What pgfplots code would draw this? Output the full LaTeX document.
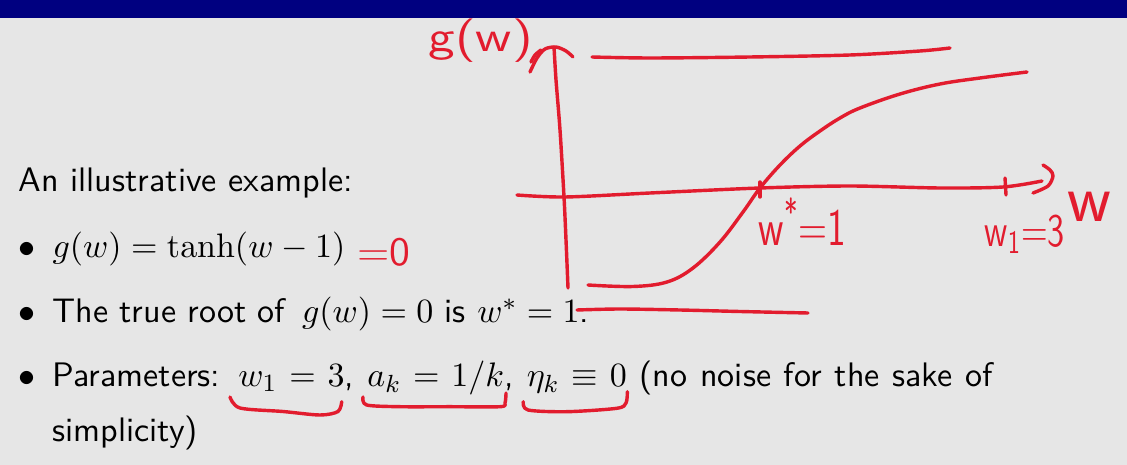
\documentclass[border=0pt]{standalone}
\usepackage{pgfplots}
\pgfplotsset{compat=1.18}
\usepackage{amsmath}
\usepackage{graphicx}
\definecolor{slidebg}{RGB}{230,230,230}
\definecolor{barnavy}{RGB}{0,0,128}
\definecolor{ink}{RGB}{226,28,46}
\newcommand{\hand}[3]{\scalebox{#1}[1]{\fontsize{#2}{#2}\selectfont\sffamily #3}}
\tikzset{txt/.style={anchor=base west, inner sep=0pt, outer sep=0pt, font=\fontsize{10.95}{13.6}\selectfont\sffamily}}
\begin{document}
\begin{tikzpicture}
\begin{axis}[
  scale only axis, width=362.85pt, height=149.71pt,
  xmin=0, xmax=1127, ymin=0, ymax=465, y dir=reverse,
  hide axis, clip=false,
]
% slide background and title bar
\addplot[fill=slidebg, draw=none] coordinates {(0,0) (1127,0) (1127,465) (0,465)} -- cycle;
\addplot[fill=barnavy, draw=none] coordinates {(0,0) (1127,0) (1127,18) (0,18)} -- cycle;

% slide text
\node[txt] at (19,191.7) {An illustrative example:};
\node[txt] at (18,257.3) {$\bullet$};
\node[txt] at (18,322.7) {$\bullet$};
\node[txt] at (18,386.7) {$\bullet$};
\node[txt] at (52.5,257.3) {\fontsize{11.2}{13.6}\selectfont$g(w) = \tanh(w-1)$};
\node[txt] at (52.5,322.7) {The true root of};
\node[txt] at (302,322.7) {$g(w) = 0$ is $w^* = 1$.};
\node[txt] at (52.5,386.7) {\hbox to 302.8pt{Parameters: $w_1 = 3$, $a_k = 1/k$, $\eta_k \equiv 0$ (no noise for the sake of}};
\node[txt] at (52.5,441.7) {simplicity)};

% handwritten strokes
\pgfplotsset{every axis plot/.append style={line width=1.1pt, line cap=round, line join=round, no marks}}
% vertical axis and arrow head
\addplot[ink, smooth] coordinates {(568,288) (566,240) (564,197) (560,130) (556,80) (554,47)};
\addplot[ink, smooth] coordinates {(530,72) (537,58) (545,49) (556,47) (566,51) (573,57)};
\addplot[ink, smooth] coordinates {(531,62) (535,55) (541,50)};
% horizontal axis, ticks and arrow head
\addplot[ink, smooth] coordinates {(517,195) (565,197) (650,193) (760,188) (850,186) (940,188) (1003,187) (1042,181)};
\addplot[ink] coordinates {(760,182) (760,197)};
\addplot[ink] coordinates {(1005,178) (1006,195)};
\addplot[ink, smooth] coordinates {(1043,165) (1050,170) (1053,176) (1048,186) (1033,193)};
% asymptotes
\addplot[ink, smooth] coordinates {(592,57) (650,58) (750,57) (850,55) (920,51) (950,48)};
\addplot[ink, smooth] coordinates {(577,310) (620,309) (680,310) (740,311.5) (808,313)};
% g(w) = tanh(w-1)
\addplot[ink, smooth, tension=0.6] coordinates {(588,285) (633,286.5) (667,282) (693,268) (720,242) (743,212) (760,188) (780,165) (800,146) (820,131) (840,118) (860,108) (900,94) (940,84) (980,78) (1027,72)};
% underbraces
\addplot[ink, smooth] coordinates {(230,397) (240,408) (283,411.5) (320,415) (338,411.5) (341.7,401.7)};
\addplot[ink, smooth] coordinates {(363,397) (366.7,405) (400,406.7) (450,406.7) (500,406.7) (505,403) (506,393)};
\addplot[ink, smooth] coordinates {(523.3,401.7) (528,410) (566.7,411.7) (616.7,408.3) (626,403) (627.3,391.7)};

% handwritten labels
\node[anchor=base west, inner sep=0pt, text=ink] at (428,52) {\hand{1.25}{14}{g(w)}};
\node[anchor=base west, inner sep=0pt, text=ink] at (357,265) {\hand{1.05}{13}{=0}};
\node[anchor=base west, inner sep=0pt, text=ink] at (758,245) {\hand{0.75}{17}{w\textsuperscript{*}=1}};
\node[anchor=base west, inner sep=0pt, text=ink] at (984,247) {\hand{0.75}{15}{w\textsubscript{1}=3}};
\node[anchor=base west, inner sep=0pt, text=ink] at (1067,222) {\hand{1}{22}{w}};
\end{axis}
\end{tikzpicture}
\end{document}
